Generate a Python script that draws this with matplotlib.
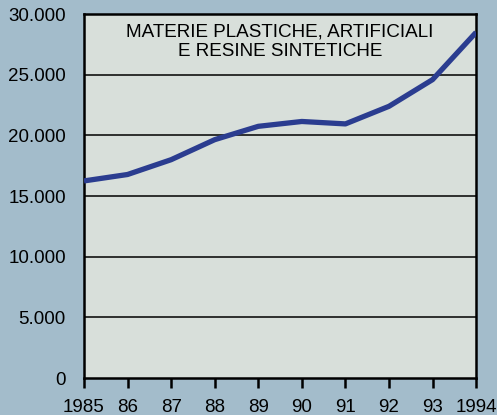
import matplotlib
matplotlib.use("Agg")
import matplotlib.pyplot as plt

# ---------- Data ----------

years = [1985, 1986, 1987, 1988, 1989, 1990, 1991, 1992, 1993, 1994]
values = [16250, 16780, 18000, 19650, 20750, 21150, 20950, 22400, 24600, 28500]

year_labels = ["1985", "86", "87", "88", "89", "90", "91", "92", "93", "1994"]
y_ticks = [0, 5000, 10000, 15000, 20000, 25000, 30000]
y_labels = ["0", "5.000", "10.000", "15.000", "20.000", "25.000", "30.000"]

title_line1 = "MATERIE PLASTICHE, ARTIFICIALI"
title_line2 = "E RESINE SINTETICHE"

# ---------- Style ----------

outer_bg = "#a3bccb"
panel_bg = "#d8dfda"
line_color = "#2b3d90"

plt.rcParams["font.family"] = ["Liberation Sans", "DejaVu Sans"]

fig = plt.figure(figsize=(4.97, 4.15), dpi=100)
fig.patch.set_facecolor(outer_bg)

ax = fig.add_axes([0.169, 0.089, 0.789, 0.877])
ax.set_facecolor(panel_bg)

# horizontal gridlines
for v in y_ticks[1:-1]:
    ax.axhline(v, color="black", linewidth=1.1, zorder=1)

ax.plot(years, values, color=line_color, linewidth=3.8,
        solid_joinstyle="round", solid_capstyle="butt", zorder=3)

ax.set_xlim(years[0], years[-1])
ax.set_ylim(0, 30000)

ax.set_xticks(years)
ax.set_xticklabels(year_labels, fontsize=13.5)
ax.set_yticks(y_ticks)
ax.set_yticklabels(y_labels, fontsize=13.5)

ax.tick_params(axis="x", direction="out", length=7, width=1.8,
               pad=8, colors="black")
ax.tick_params(axis="y", length=0, pad=13)

for spine in ax.spines.values():
    spine.set_linewidth(1.8)
    spine.set_color("black")

ax.text(0.5, 0.950, title_line1, transform=ax.transAxes,
        ha="center", va="center", fontsize=13.6)
ax.text(0.5, 0.898, title_line2, transform=ax.transAxes,
        ha="center", va="center", fontsize=13.6)

plt.savefig("out.png", dpi=100, facecolor=outer_bg)
